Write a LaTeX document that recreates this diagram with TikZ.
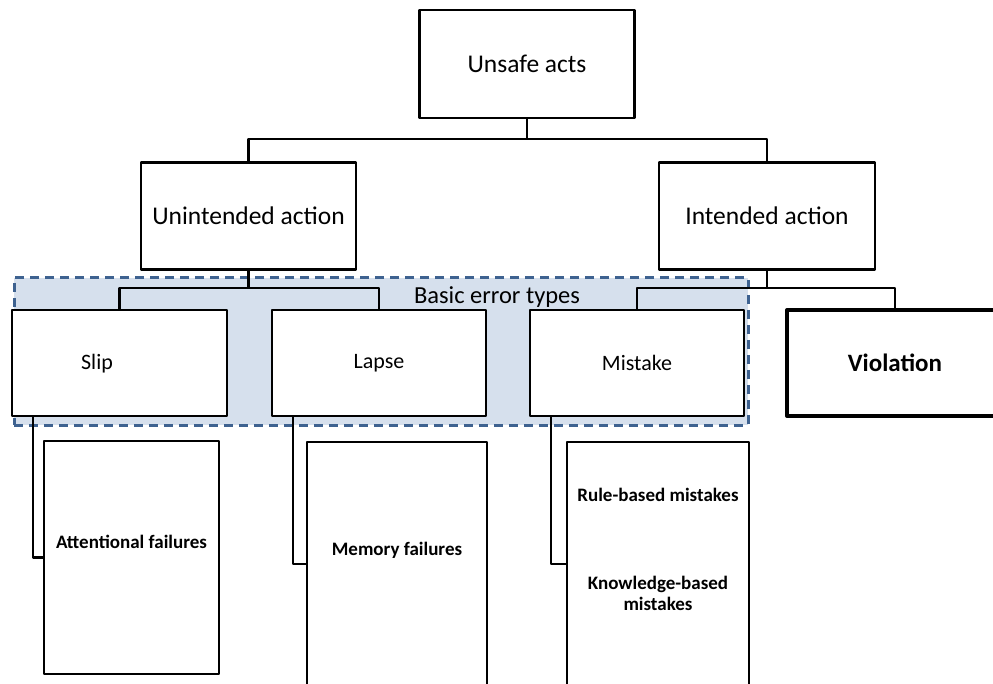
\documentclass[tikz,border=0pt]{standalone}
\usepackage{fontspec}
\setmainfont{Carlito}
\definecolor{regionfill}{HTML}{D6E0ED}
\definecolor{regionedge}{HTML}{3E6290}
\begin{document}
\begin{tikzpicture}[x=1pt,y=-1pt,
  box/.style={draw=black, fill=white, line width=2.5pt, outer sep=0pt,
    line join=round, inner sep=0pt, align=center},
  link/.style={draw=black, line width=2.5pt, line join=round},
  bigtext/.style={font=\fontsize{25.5}{29}\selectfont},
  midtext/.style={font=\fontsize{22}{25}\selectfont},
  smalltext/.style={font=\bfseries\fontsize{19}{21}\selectfont, align=center, inner sep=0pt}
]
\useasboundingbox (0,0) rectangle (993,684);
\clip (0,0) rectangle (993,684);

% shaded group of the basic error types
\node[draw=regionedge, fill=regionfill, line width=3pt, dash pattern=on 9pt off 6pt,
  minimum width=734pt, minimum height=147pt, outer sep=0pt] (basic) at (381,351.5) {};
\node[font=\fontsize{24.5}{28}\selectfont, inner sep=0pt] (basiclabel) at (497,297) {Basic error types};

% tree of boxes
\node[box, bigtext, minimum width=215pt, minimum height=108pt] (top) at (527,64) {Unsafe acts};
\node[box, bigtext, minimum width=215pt, minimum height=107pt] (unint) at (248.5,216) {Unintended action};
\node[box, bigtext, minimum width=216pt, minimum height=107pt] (intd) at (767,216) {Intended action};

\node[box, minimum width=215pt, minimum height=106pt] (slip) at (119.5,363) {};
\node[midtext, inner sep=0pt] (sliptext) at (97,364) {Slip};
\node[box, midtext, minimum width=214pt, minimum height=106pt] (lapse) at (379,363) {Lapse};
\node[box, midtext, minimum width=214pt, minimum height=106pt] (mistake) at (637,363) {Mistake};
\node[box, line width=4pt, font=\bfseries\fontsize{25}{28}\selectfont,
  minimum width=216pt, minimum height=106pt] (viol) at (895,363) {Violation};

% detail boxes
\node[box, minimum width=175pt, minimum height=233pt] (att) at (131.5,557.5) {};
\node[smalltext] (atttext) at (131.5,542) {Attentional failures};
\node[box, minimum width=180pt, minimum height=244pt] (mem) at (397,564) {};
\node[smalltext] (memtext) at (397,550) {Memory failures};
\node[box, minimum width=182pt, minimum height=244pt] (mist) at (658,564) {};
\node[smalltext] (ruletext) at (658,495) {Rule-based mistakes};
\node[smalltext] (knowtext) at (658,593.5) {Knowledge-based\\mistakes};

% connectors
\draw[link] (top.south) -- ++(0,21) -| (unint.north);
\draw[link] (top.south) -- ++(0,21) -| (intd.north);
\draw[link] (unint.south) -- ++(0,18.5) -| (slip.north);
\draw[link] (unint.south) -- ++(0,18.5) -| (lapse.north);
\draw[link] (intd.south) -- ++(0,18.5) -| (mistake.north);
\draw[link] (intd.south) -- ++(0,18.5) -| (viol.north);
\draw[link] ([xshift=21pt]slip.south west) |- (att.west);
\draw[link] ([xshift=21pt]lapse.south west) |- (mem.west);
\draw[link] ([xshift=21pt]mistake.south west) |- (mist.west);
\end{tikzpicture}
\end{document}
